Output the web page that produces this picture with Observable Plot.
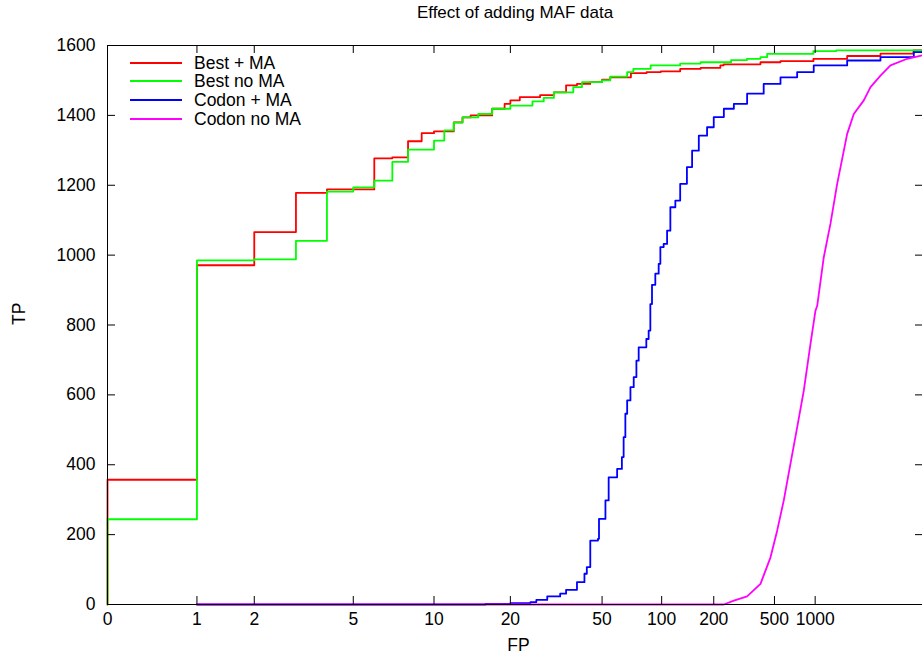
<!DOCTYPE html>
<html><head><meta charset="utf-8">
<script src="https://cdn.jsdelivr.net/npm/d3@7"></script>
<script src="https://cdn.jsdelivr.net/npm/@observablehq/plot@0.6"></script>
<style>
html,body{margin:0;padding:0;background:#fff;overflow:hidden;}
#wrap{position:relative;width:922px;height:658px;overflow:hidden;font-family:"Liberation Sans",Arial,Helvetica,sans-serif;color:#000;}
#title{position:absolute;left:107px;width:816px;top:0;height:26px;line-height:26px;text-align:center;font-size:17px;}
#chart{position:absolute;left:0;top:26px;width:930px;height:632px;}
#chart svg{max-width:none !important;width:930px !important;height:632px !important;}
.lg-line{position:absolute;left:130px;width:52px;height:0;border-top:2px solid;}
.lg-text{position:absolute;left:194px;font-size:17.5px;line-height:20px;white-space:nowrap;}
</style></head>
<body>
<div id="wrap">
  <div id="title">Effect of adding MAF data</div>
  <div id="chart"></div>
  <div id="legend"></div>
</div>
<script>
// ---- series ----
const seriesNames  = ["Best + MA", "Best no MA", "Codon + MA", "Codon no MA"];
const seriesColors = ["#ff0000", "#00ff00", "#0000ff", "#ff00ff"];

const bestMA_fp = [0,0,1,2,3,4,6,7,8,9,10,12,13,14,17,19,20,22,27,31,35,39,44.5,50,55,70,84,99,128,168,221,232,405,554,971,1849,3505,6600,8000];
const bestMA_tp = [0,357,971,1066,1178,1188,1277,1280,1326,1349,1354,1380,1394,1400,1419,1433,1443,1452,1458,1466,1486,1490,1495,1502,1509,1521,1524,1526,1533,1536,1543,1546,1552,1555,1562,1570,1577,1586,1587];

const bestNoMA_fp = [0,0,1,2,3,4,5,6,7,8,10,11,12,13,15,17,20,25,28,31,37.6,41,50,55,67,72,88,128,168,260,330,405,448,971,1500,8000];
const bestNoMA_tp = [0,244,985,988,1041,1182,1194,1213,1267,1302,1328,1357,1379,1394,1404,1419,1428,1440,1450,1466,1481,1495,1500,1511,1524,1533,1543,1548,1552,1558,1562,1567,1576,1584,1586,1586];

const codonMA_fp = [1,16,20,24.5,26,29,33,35,39,42,43,44.5,48,48.5,52,54,59.6,63,64.3,65.6,67,69.6,72.3,74.6,76.6,83.7,86,87.7,89.4,92.9,96.6,98.5,102.7,107.5,112.3,120,128,140,150,164,183,200,233,271,331,425,554,736,976,1849,3505,6641,8000];
const codonMA_tp = [0,2,4,7,13,23,31,42,64,88,107,183,188,245,298,364,388,422,479,546,584,622,651,698,736,760,784,860,915,947,975,1023,1032,1070,1137,1156,1204,1252,1299,1342,1366,1395,1419,1433,1462,1490,1509,1524,1543,1557,1567,1581,1586];

const codonNoMA_fp = [1,233,271,331,405,471,524,586,657,736,824,923,1006,1040,1180,1342,1526,1849,2099,2544,2893,3505,4247,5851,7654,8000];
const codonNoMA_tp = [0,0,11,23,59,135,212,298,403,507,612,745,841,855,994,1090,1204,1347,1404,1443,1481,1514,1543,1562,1571,1573];

// ---- axis ticks ----
const xTickValues = [0,1,2,5,10,20,50,100,200,500,1000];
const xTickLabels = ["0","1","2","5","10","20","50","100","200","500","1000"];
const yTickValues = [0,200,400,600,800,1000,1200,1400,1600];

// ---- custom FP axis (piecewise in log10(FP+1)) ----
const xKnotFP  = [0,1,2,3,4,5,6,7,8,10,20,50,100,200,500,1000,8000];
const xKnotPos = [0,0.1264,0.2074,0.2663,0.3101,0.3473,0.3770,0.4025,0.4247,0.4614,0.5693,0.6989,0.7831,0.8567,0.9425,1,1.1531];
const fxScale = d3.scaleLinear().domain(xKnotFP.map(v => Math.log10(v + 1))).range(xKnotPos);
const xpos = v => fxScale(Math.log10(v + 1));

const seriesFP = [bestMA_fp, bestNoMA_fp, codonMA_fp, codonNoMA_fp];
const seriesTP = [bestMA_tp, bestNoMA_tp, codonMA_tp, codonNoMA_tp];
const seriesCurve = ["step-after", "step-after", "step-after", "linear"];

const W = 930, H = 632, mL = 107, mR = 7, mT = 19, mB = 54;
const plotW = W - mL - mR, plotH = H - mT - mB;
const font = '"Liberation Sans", Arial, Helvetica, sans-serif';

const lineMarks = seriesNames.map((name, s) => {
  const rows = seriesFP[s].map((f, i) => ({fp: f, tp: seriesTP[s][i]}));
  return Plot.line(rows, {x: d => xpos(d.fp), y: "tp", stroke: seriesColors[s], strokeWidth: 1.8, curve: seriesCurve[s]});
});

const chart = Plot.plot({
  width: W, height: H,
  marginLeft: mL, marginRight: mR, marginTop: mT, marginBottom: mB,
  x: {domain: [0, xKnotPos[xKnotPos.length - 1]], axis: null},
  y: {domain: [0, 1600], axis: null},
  style: {fontFamily: font, fontSize: "17.5px", background: "#fff", color: "#000", overflow: "visible", maxWidth: "none"},
  marks: [
    ...lineMarks,
    Plot.frame({stroke: "#000", strokeWidth: 1}),
    Plot.ruleX(xTickValues, {x: d => xpos(d), insetTop: plotH - 8, stroke: "#000"}),
    Plot.ruleX(xTickValues, {x: d => xpos(d), insetBottom: plotH - 8, stroke: "#000"}),
    Plot.ruleY(yTickValues, {y: d => d, insetRight: plotW - 8, stroke: "#000"}),
    Plot.ruleY(yTickValues, {y: d => d, insetLeft: plotW - 8, stroke: "#000"}),
    Plot.text(xTickValues, {x: d => xpos(d), frameAnchor: "bottom", dy: 20, text: (d, i) => xTickLabels[i], fill: "#000"}),
    Plot.text(yTickValues, {y: d => d, frameAnchor: "left", textAnchor: "end", dx: -12, text: d => String(d), fill: "#000"}),
    Plot.text(["FP"], {frameAnchor: "bottom", dy: 46, dx: 3, text: d => d, fill: "#000"}),
    Plot.text(["TP"], {frameAnchor: "left", dx: -88, rotate: -90, text: d => d, fill: "#000"})
  ]
});
document.getElementById("chart").appendChild(chart);

// ---- legend ----
const legend = document.getElementById("legend");
seriesNames.forEach((name, i) => {
  const cy = 62.5 + i * 18.7;
  const ln = document.createElement("div");
  ln.className = "lg-line";
  ln.style.top = (cy - 1) + "px";
  ln.style.borderTopColor = seriesColors[i];
  legend.appendChild(ln);
  const tx = document.createElement("div");
  tx.className = "lg-text";
  tx.style.top = (cy - 10) + "px";
  tx.textContent = name;
  legend.appendChild(tx);
});
</script>
</body></html>
